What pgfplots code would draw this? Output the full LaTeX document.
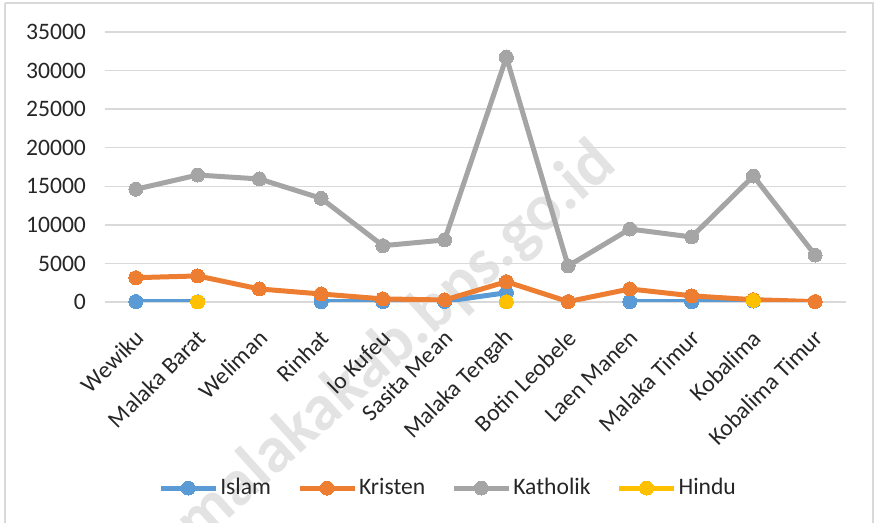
\documentclass[border=0pt]{standalone}
\usepackage{pgfplots}
\pgfplotsset{compat=1.18}
\usepackage{fontspec}
\setmainfont{Carlito}
\definecolor{cIslam}{HTML}{5B9BD5}
\definecolor{cKristen}{HTML}{ED7D31}
\definecolor{cKatholik}{HTML}{A5A5A5}
\definecolor{cHindu}{HTML}{FFC000}
\definecolor{cGrid}{HTML}{D9D9D9}
\definecolor{cWater}{HTML}{E3E3E3}
\definecolor{cText}{HTML}{262626}
\begin{document}
\begin{tikzpicture}
\useasboundingbox (0,0) rectangle (437.5pt,-261.5pt);
\node[rotate=42, text=cWater, font=\fontsize{33}{33}\selectfont\bfseries, inner sep=0pt] at (198.5pt,-172pt) {malakakab.bps.go.id};
\draw[cGrid, line width=0.75pt] (2.5pt,-1.5pt) -- (2.5pt,-265pt);
\draw[cGrid, line width=0.75pt] (2.5pt,-1.5pt) -- (436.5pt,-1.5pt) -- (436.5pt,-265pt);
\begin{axis}[
  at={(52.5pt,-151pt)}, anchor=south west,
  scale only axis, width=370.5pt, height=135pt,
  xmin=-0.5, xmax=11.5, ymin=0, ymax=35000,
  xtick={0,...,11},
  xticklabels={Wewiku,Malaka Barat,Weliman,Rinhat,Io Kufeu,Sasita Mean,Malaka Tengah,Botin Leobele,Laen Manen,Malaka Timur,Kobalima,Kobalima Timur},
  ytick={0,5000,...,35000},
  scaled y ticks=false,
  yticklabel={\pgfmathprintnumber[fixed,use comma=false,1000 sep={}]{\tick}},
  /pgf/number format/assume math mode=true,
  ticklabel style={font=\fontsize{11.8}{14}\selectfont, text=cText},
  yticklabel style={anchor=east, xshift=-6pt},
  xticklabel style={anchor=east, inner sep=0pt, xshift=2pt, yshift=-16pt, rotate=45},
  axis line style={draw=none},
  major tick length=0pt,
  ymajorgrids, grid style={cGrid, line width=0.75pt},
  unbounded coords=jump,
  every axis plot/.append style={line width=2.5pt, mark=*, mark size=3.5pt},
  legend columns=4,
  legend style={at={(0.463,-0.689)}, anchor=center, draw=none, fill=none,
    font=\fontsize{11.8}{14}\selectfont, text=cText,
    /tikz/every even column/.append style={column sep=12pt},
    nodes={inner sep=1pt}},
  legend cell align=left,
  legend image code/.code={\draw[mark repeat=2,mark phase=2,#1] plot coordinates {(0pt,0pt)(13.75pt,0pt)(27.5pt,0pt)};},
]
\addplot[cIslam, mark options={fill=cIslam, draw=cIslam, line width=0pt}] coordinates {
(0,60) (1,40) (2,nan) (3,40) (4,50) (5,80) (6,1200) (7,nan) (8,40) (9,40) (10,120) (11,nan)};
\addlegendentry{Islam}
\addplot[cKristen, mark options={fill=cKristen, draw=cKristen, line width=0pt}] coordinates {
(0,3150) (1,3380) (2,1690) (3,1040) (4,400) (5,260) (6,2630) (7,50) (8,1690) (9,800) (10,300) (11,50)};
\addlegendentry{Kristen}
\addplot[cKatholik, mark options={fill=cKatholik, draw=cKatholik, line width=0pt}] coordinates {
(0,14620) (1,16460) (2,15950) (3,13440) (4,7300) (5,8040) (6,31720) (7,4670) (8,9460) (9,8430) (10,16330) (11,6090)};
\addlegendentry{Katholik}
\addplot[cHindu, mark options={fill=cHindu, draw=cHindu, line width=0pt}] coordinates {
(0,nan) (1,20) (2,nan) (3,nan) (4,nan) (5,nan) (6,20) (7,nan) (8,nan) (9,nan) (10,200) (11,nan)};
\addlegendentry{Hindu}
\end{axis}
\end{tikzpicture}
\end{document}
